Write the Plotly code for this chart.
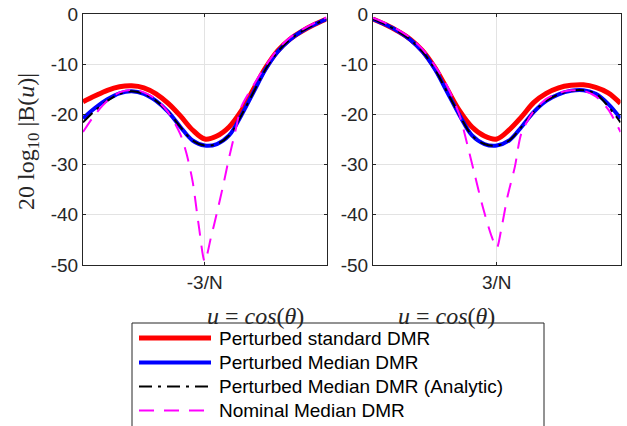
import plotly.graph_objects as go

# u axis in units of 1/N
u_left = [-4.5, -4.35, -4.2, -4.05, -3.9, -3.75, -3.6, -3.45, -3.3, -3.15, -3.0,
          -2.85, -2.7, -2.55, -2.4, -2.25, -2.1, -1.95, -1.8, -1.65, -1.5]
u_right = [1.5, 1.65, 1.8, 1.95, 2.1, 2.25, 2.4, 2.55, 2.7, 2.85, 3.0,
           3.15, 3.3, 3.45, 3.6, 3.75, 3.9, 4.05, 4.2, 4.35, 4.5]

std_left = [-17.5, -16.3, -15.2, -14.5, -14.3, -14.7, -15.9, -17.8, -20.3, -23.1, -24.9,
            -24.3, -22.5, -19.3, -15.0, -10.7, -7.3, -5.0, -3.4, -2.1, -1.0]
med_left = [-20.8, -18.7, -17.0, -15.8, -15.4, -15.9, -17.3, -19.5, -22.5, -25.2, -26.2,
            -25.9, -24.2, -20.2, -15.6, -11.0, -7.5, -5.1, -3.4, -2.1, -1.0]
ana_left = [-21.6, -19.2, -17.3, -15.9, -15.4, -15.9, -17.3, -19.5, -22.5, -25.2, -26.2,
            -25.9, -24.2, -20.2, -15.6, -11.0, -7.5, -5.1, -3.4, -2.1, -1.0]

std_right = [-1.0, -2.1, -3.4, -5.0, -7.3, -10.7, -15.0, -19.3, -22.5, -24.3, -24.9,
             -23.1, -20.5, -17.6, -15.8, -14.7, -14.2, -14.1, -14.6, -15.7, -17.8]
med_right = [-1.0, -2.1, -3.4, -5.1, -7.5, -11.0, -15.6, -20.2, -24.2, -25.9, -26.2,
             -25.2, -22.5, -19.5, -17.3, -16.0, -15.3, -15.2, -15.9, -17.9, -20.8]
ana_right = [-1.0, -2.1, -3.4, -5.1, -7.5, -11.0, -15.6, -20.2, -24.2, -25.9, -26.2,
             -25.2, -22.5, -19.5, -17.3, -16.0, -15.3, -15.2, -15.9, -18.4, -21.6]

u_nom_left = [-4.5, -4.35, -4.2, -4.05, -3.9, -3.75, -3.6, -3.45, -3.3, -3.225, -3.15,
              -3.075, -3.0, -2.925, -2.85, -2.775, -2.7, -2.625, -2.55, -2.4, -2.25,
              -2.1, -1.95, -1.8, -1.65, -1.5]
nom_left = [-23.5, -20.0, -17.3, -15.6, -15.1, -15.6, -17.0, -19.6, -24.0, -27.8, -33.3,
            -42.0, -49.3, -44.6, -39.6, -34.3, -28.6, -23.5, -18.5, -14.2, -10.3,
            -7.0, -4.7, -3.1, -1.8, -0.7]
u_nom_right = [1.5, 1.65, 1.8, 1.95, 2.1, 2.25, 2.4, 2.55, 2.64, 2.73, 2.83, 2.94, 3.0,
               3.06, 3.13, 3.22, 3.3, 3.45, 3.6, 3.75, 3.9, 4.05, 4.2, 4.35, 4.5]
nom_right = [-0.8, -1.8, -3.1, -4.7, -7.0, -10.3, -14.4, -20.2, -25.8, -31.8, -38.4, -44.4, -46.6,
             -42.4, -36.4, -30.4, -23.7, -19.3, -16.9, -15.7, -15.2, -15.3, -16.4, -19.0, -23.5]

legend_names = ["Perturbed standard DMR", "Perturbed Median DMR",
                "Perturbed Median DMR (Analytic)", "Nominal Median DMR"]
y_ticks = [-50, -40, -30, -20, -10, 0]
y_ticktext = ["-50", "-40", "-30", "-20", "-10", "0"]

W, H = 627, 426
styles = [
    dict(color="#ff0000", width=5),
    dict(color="#0000ff", width=4),
    dict(color="#000000", width=2, dash="13px,6px,3px,6px"),
    dict(color="#ff00ff", width=2, dash="15px,10px"),
]

fig = go.Figure()
panels = [
    ("x", "y", u_left, [std_left, med_left, ana_left], u_nom_left, nom_left),
    ("x2", "y2", u_right, [std_right, med_right, ana_right], u_nom_right, nom_right),
]
for xa, ya, u, series, un, nom in panels:
    for s, st in zip(series, styles[:3]):
        fig.add_trace(go.Scatter(x=u, y=s, mode="lines", xaxis=xa, yaxis=ya,
                                 line=dict(shape="spline", smoothing=1, **st),
                                 showlegend=False))
    fig.add_trace(go.Scatter(x=un, y=nom, mode="lines", xaxis=xa, yaxis=ya,
                             line=dict(shape="spline", smoothing=0.8, **styles[3]),
                             showlegend=False))

axis_common = dict(showgrid=True, gridcolor="#e3e3e3", gridwidth=1, automargin=False,
                   showline=True, linecolor="#262626", linewidth=1, mirror="ticks",
                   ticks="inside", ticklen=3, tickcolor="#262626", zeroline=False,
                   tickfont=dict(family="Liberation Sans", size=19, color="#262626"))

fig.update_layout(
    template="none",
    width=W, height=H, margin=dict(l=0, r=0, t=0, b=0, pad=0),
    paper_bgcolor="white", plot_bgcolor="white",
    xaxis=dict(domain=[83 / W, 326.5 / W], range=[-4.5, -1.5], tickvals=[-3],
               ticktext=["-3/N"], anchor="y", **axis_common),
    xaxis2=dict(domain=[373 / W, 620.5 / W], range=[1.5, 4.5], tickvals=[3],
                ticktext=["3/N"], anchor="y2", **axis_common),
    yaxis=dict(domain=[1 - 265 / H, 1 - 14 / H], range=[-50, 0], tickvals=y_ticks,
               ticktext=y_ticktext, anchor="x", **axis_common),
    yaxis2=dict(domain=[1 - 265 / H, 1 - 14 / H], range=[-50, 0], tickvals=y_ticks,
                ticktext=y_ticktext, anchor="x2", **axis_common),
)

serif = dict(family="Liberation Serif", size=24, color="#262626")
xtitle = "<i>u</i> = <i>cos</i>(<i>θ</i>)"
fig.add_annotation(x=(83 + 326.5) / 2 / W, y=1 - 316 / H, xref="paper", yref="paper",
                   text=xtitle, showarrow=False, font=serif, yanchor="middle")
fig.add_annotation(x=(373 + 620.5) / 2 / W, y=1 - 316 / H, xref="paper", yref="paper",
                   text=xtitle, showarrow=False, font=serif, yanchor="middle")
fig.add_annotation(x=28 / W, y=1 - 142 / H, xref="paper", yref="paper",
                   text="20 log<sub>10</sub> |B(<i>u</i>)|", textangle=-90,
                   showarrow=False, font=serif, xanchor="center", yanchor="middle")

# legend box drawn by hand to match the long line samples
fig.add_shape(type="rect", xref="paper", yref="paper", x0=132 / W, x1=544 / W,
              y0=-0.05, y1=1 - 323 / H, line=dict(color="#262626", width=1),
              fillcolor="white", layer="above")
rows = [338, 362.5, 386.5, 410.5]
for name, st, ry in zip(legend_names, styles, rows):
    fig.add_shape(type="line", xref="paper", yref="paper", x0=139 / W, x1=211 / W,
                  y0=1 - ry / H, y1=1 - ry / H, layer="above",
                  line=dict(color=st["color"], width=st["width"], dash=st.get("dash", "solid")))
    fig.add_annotation(x=217 / W, y=1 - ry / H, xref="paper", yref="paper", text=name,
                       showarrow=False, xanchor="left", yanchor="middle",
                       font=dict(family="Liberation Sans", size=19, color="#000000"))

# the page body has a default 8px margin; drop it so the figure fills the window
fig.write_html("out.html", config={"displayModeBar": False},
               post_script="document.body.style.margin='0';")
